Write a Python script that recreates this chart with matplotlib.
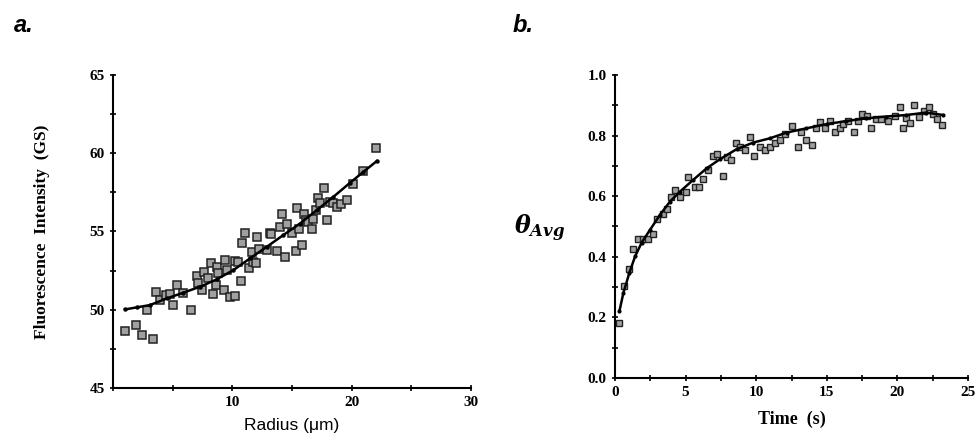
import matplotlib
matplotlib.use("Agg")
import matplotlib.pyplot as plt
from matplotlib.ticker import MultipleLocator

plt.rcParams["mathtext.fontset"] = "dejavuserif"

# ---- Panel a data: radius (um) vs fluorescence intensity (GS)
radius = [1.01, 1.93, 2.46, 3.32, 2.88, 3.60, 3.94, 4.44, 4.78, 5.06, 5.39, 5.89,
          6.51, 7.01, 7.15, 7.63, 7.43, 7.99, 8.21, 8.41, 8.74, 8.63, 8.83, 9.39,
          9.53, 9.30, 9.80, 10.22, 10.22, 10.50, 10.73, 10.78, 11.06, 11.42, 11.62,
          11.76, 11.98, 12.09, 12.26, 12.88, 13.16, 13.21, 13.72, 14.41, 14.13,
          13.99, 14.55, 14.97, 15.34, 15.39, 15.61, 15.81, 16.01, 16.17, 16.37,
          16.65, 16.79, 17.01, 17.21, 17.35, 17.68, 17.91, 18.18, 18.46, 18.74,
          19.08, 19.64, 20.14, 20.98, 22.04]
intensity = [48.66, 49.02, 48.36, 48.11, 49.98, 51.11, 50.62, 50.94, 50.98, 50.30,
             51.57, 51.04, 49.98, 52.15, 51.72, 52.43, 51.26, 52.00, 52.96, 51.00,
             52.74, 51.57, 52.32, 53.17, 52.57, 51.26, 50.79, 50.87, 53.13, 53.06,
             51.85, 54.28, 54.91, 52.64, 53.70, 53.06, 52.96, 54.62, 53.91, 53.81,
             54.91, 54.87, 53.77, 53.34, 56.11, 55.30, 55.51, 54.91, 53.77, 56.53,
             55.13, 54.13, 56.11, 55.72, 55.62, 55.19, 55.77, 56.36, 57.17, 56.83,
             57.79, 55.72, 56.89, 56.79, 56.57, 56.74, 57.04, 58.06, 58.85, 60.34]
fit_a_x = [1.01, 1.98, 3.10, 4.50, 5.89, 7.29, 8.69, 10.08, 11.48, 12.88, 14.27,
           15.67, 17.07, 18.46, 19.86, 20.98, 22.09]
fit_a_y = [50.02, 50.15, 50.30, 50.72, 51.09, 51.47, 51.94, 52.53, 53.28, 54.02,
           54.77, 55.51, 56.36, 57.21, 58.11, 58.81, 59.49]

# ---- Panel b data: time (s) vs theta_avg
time_s = [0.31, 0.64, 1.01, 1.30, 1.65, 2.00, 2.36, 2.71, 2.95, 3.37, 3.70, 3.94,
          4.25, 4.60, 5.02, 5.19, 5.66, 5.97, 6.25, 6.60, 6.91, 7.19, 7.62, 7.90,
          8.25, 8.56, 8.84, 9.20, 9.55, 9.83, 10.26, 10.61, 10.97, 11.32, 11.67,
          12.03, 12.50, 12.97, 13.14, 13.56, 13.92, 14.27, 14.50, 14.86, 15.21,
          15.57, 15.92, 16.16, 16.51, 16.91, 17.22, 17.52, 17.85, 18.16, 18.47,
          18.87, 19.34, 19.81, 20.21, 20.40, 20.64, 20.87, 21.18, 21.53, 21.86,
          22.24, 22.52, 22.81, 23.18]
theta = [0.181, 0.302, 0.359, 0.425, 0.458, 0.458, 0.459, 0.474, 0.524, 0.540,
         0.557, 0.597, 0.621, 0.599, 0.615, 0.665, 0.632, 0.632, 0.656, 0.687,
         0.733, 0.740, 0.667, 0.729, 0.720, 0.777, 0.762, 0.751, 0.795, 0.733,
         0.762, 0.753, 0.762, 0.777, 0.784, 0.805, 0.832, 0.762, 0.813, 0.786,
         0.769, 0.824, 0.845, 0.824, 0.849, 0.813, 0.824, 0.838, 0.849, 0.813,
         0.849, 0.871, 0.865, 0.824, 0.854, 0.854, 0.849, 0.865, 0.893, 0.824,
         0.857, 0.843, 0.901, 0.860, 0.882, 0.893, 0.871, 0.854, 0.835]
fit_b_x = [0.31, 0.59, 1.01, 1.42, 1.89, 2.48, 3.18, 3.89, 4.60, 5.54, 6.49, 7.43,
           8.61, 9.79, 10.97, 12.15, 13.56, 14.98, 16.39, 17.81, 19.22, 20.64,
           22.05, 23.23]
fit_b_y = [0.220, 0.280, 0.346, 0.401, 0.447, 0.489, 0.538, 0.582, 0.615, 0.654,
           0.692, 0.722, 0.755, 0.777, 0.791, 0.810, 0.824, 0.838, 0.848, 0.857,
           0.863, 0.868, 0.876, 0.868]

fig = plt.figure(figsize=(9.8, 4.48), dpi=100)
serif = "Liberation Serif"
sans = "Liberation Sans"

def style(ax):
    for s in ("top", "right"):
        ax.spines[s].set_visible(False)
    for s in ("left", "bottom"):
        ax.spines[s].set_linewidth(1.5)
    ax.tick_params(which="both", direction="inout", width=1.2)
    ax.tick_params(which="major", length=5)
    ax.tick_params(which="minor", length=4)
    for lab in ax.get_xticklabels() + ax.get_yticklabels():
        lab.set_fontfamily(serif)
        lab.set_fontweight("bold")
        lab.set_fontsize(11)

# Panel a
axa = fig.add_axes([113/980, 1-388/448, 358/980, 313/448])
axa.plot(radius, intensity, ls="none", marker="s", ms=5.2, mfc="#a0a0a0",
         mec="#222222", mew=1.1, clip_on=False)
axa.plot(fit_a_x, fit_a_y, color="black", lw=1.8, marker="o", ms=2.2, clip_on=False)
axa.set_xlim(0, 30)
axa.set_ylim(45, 65)
axa.xaxis.set_minor_locator(MultipleLocator(5))
axa.yaxis.set_major_locator(MultipleLocator(5))
axa.yaxis.set_minor_locator(MultipleLocator(2.5))
axa.set_xticks([0, 10, 20, 30])
axa.set_xticklabels(["", "10", "20", "30"])
style(axa)
axa.set_xlabel("Radius (\u03bcm)", fontfamily=sans, fontsize=12.5, labelpad=6)
fig.text(42/980, 1-232/448, "Fluorescence  Intensity  (GS)", fontfamily=serif,
         fontweight="bold", fontsize=12.5, rotation=90, ha="center", va="center")

# Panel b
axb = fig.add_axes([615/980, 1-378/448, 353/980, 303/448])
axb.plot(time_s, theta, ls="none", marker="s", ms=4.3, mfc="#a0a0a0",
         mec="#222222", mew=1.0, clip_on=False)
axb.plot(fit_b_x, fit_b_y, color="black", lw=1.8, marker="o", ms=2.0, clip_on=False)
axb.set_xlim(0, 25)
axb.set_ylim(0, 1.0)
axb.xaxis.set_major_locator(MultipleLocator(5))
axb.xaxis.set_minor_locator(MultipleLocator(2.5))
axb.yaxis.set_minor_locator(MultipleLocator(0.1))
axb.set_yticks([0, 0.2, 0.4, 0.6, 0.8, 1.0])
axb.set_yticklabels(["0.0", "0.2", "0.4", "0.6", "0.8", "1.0"])
style(axb)
axb.set_xlabel("Time  (s)", fontfamily=serif, fontweight="bold", fontsize=13, labelpad=8)

fig.text(540/980, 1-228/448, r"$\mathbfit{\theta}_{\mathbfit{Avg}}$", fontsize=17,
         ha="center", va="center")

fig.text(24/980, 1-26/448, "a.", fontfamily=sans, fontweight="bold",
         fontstyle="italic", fontsize=17, ha="center", va="center")
fig.text(523/980, 1-26/448, "b.", fontfamily=sans, fontweight="bold",
         fontstyle="italic", fontsize=17, ha="center", va="center")

fig.savefig("out.png", dpi=100, facecolor="white")
